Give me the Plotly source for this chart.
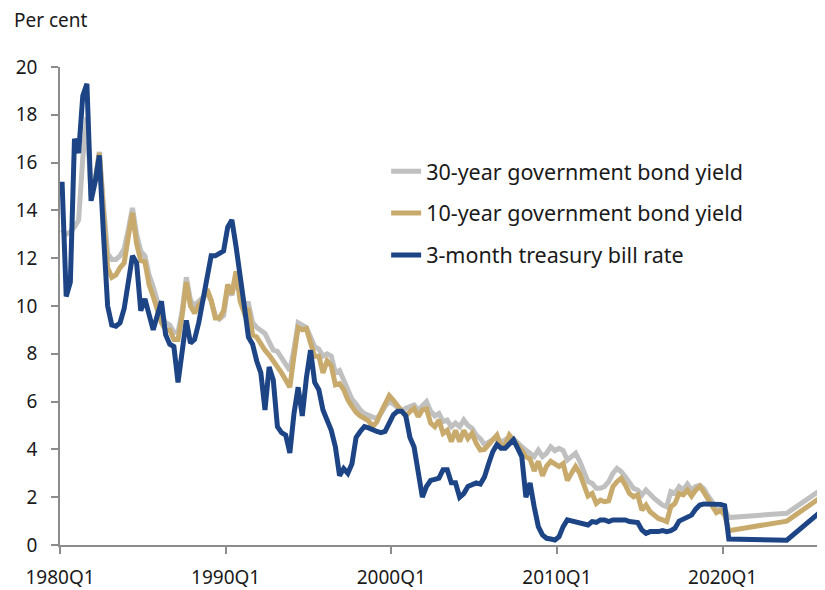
import plotly.graph_objects as go

# Quarterly categories 1980Q1 .. 2025Q4
years = list(range(1980, 2026))
quarters = [f"{y}Q{q}" for y in years for q in (1, 2, 3, 4)]
tick_labels = ["1980Q1", "1990Q1", "2000Q1", "2010Q1", "2020Q1"]

N = None
# 30-year government bond yield (per cent)
bond30 = [
    13.2, 13.0, 13.1, 13.3, 13.6, 16.2, 17.9, 14.6,
    15.3, 16.45, 14.2, 12.2, 11.95, 11.95, 12.1, 12.4,
    13.2, 14.1, 13.0, 12.3, 12.1, 11.3, 10.8, 10.2,
    9.6, 9.3, 9.2, 8.9, 8.9, 9.8, 11.2, 10.25,
    10.0, 10.2, 10.35, 10.6, 10.2, 9.6, 9.45, 9.6,
    10.75, 10.45, 11.2, 10.7, 10.1, 10.1, 9.3, 9.1,
    9.0, 8.85, 8.5, 8.15, 8.1, 7.8, 7.6, 7.3,
    8.2, 9.3, 9.2, 9.1, 8.7, 8.3, 8.2, 7.9,
    8.0, 7.9, 7.2, 7.3, 6.9, 6.5, 6.1, 5.9,
    5.65, 5.5, 5.4, 5.35, 5.3, 5.5, 5.8, 6.0,
    5.9, 5.75, 5.6, 5.72, 5.8, 5.86, 5.65, 5.86,
    6.0, 5.6, 5.4, 5.5, 5.16, 5.23, 4.95, 5.1,
    4.95, 5.23, 5.0, 4.88, 4.6, 4.45, 4.2, 4.3,
    4.39, 4.53, 4.3, 4.4, 4.5, 4.45, 4.25, 4.11,
    3.97, 3.84, 3.7, 3.97, 3.7, 3.84, 4.11, 3.95,
    4.04, 3.95, 3.56, 3.7, 3.84, 3.5, 3.1, 2.65,
    2.58, 2.37, 2.37, 2.45, 2.65, 3.0, 3.2, 3.07,
    2.86, 2.65, 2.37, 2.3, 2.09, 2.3, 2.09, 1.95,
    1.81, 1.67, 1.6, 2.23, 2.16, 2.44, 2.3, 2.55,
    2.3, 2.45, 2.5, 2.35, 2.05, 1.8, 1.55, 1.65,
    1.5, 1.15, N, N, N, N, N, N,
    N, N, N, N, N, N, N, 1.33,
    N, N, N, N, N, N, N, 2.28,
]

# 10-year government bond yield (per cent)
bond10 = [
    N, N, N, N, N, N, N, N,
    15.2, 16.4, 13.9, 11.6, 11.2, 11.3, 11.6, 11.8,
    12.9, 13.9, 12.6, 11.9, 11.85, 10.9, 10.4, 9.9,
    9.3, 9.0, 9.0, 8.6, 8.6, 9.6, 11.0, 10.0,
    9.7, 10.05, 10.25, 10.7, 10.25, 9.5, 9.5, 9.8,
    10.9, 10.5, 11.45, 10.2, 9.7, 9.9, 8.8, 8.7,
    8.4, 8.15, 7.95, 7.7, 7.5, 7.2, 6.9, 6.6,
    7.9, 9.1, 9.0, 9.05, 8.45, 7.9, 7.9, 7.2,
    7.7, 7.5, 6.7, 6.75, 6.5, 6.07, 5.8, 5.55,
    5.4, 5.3, 5.2, 4.95, 5.15, 5.55, 5.9, 6.25,
    6.05, 5.85, 5.65, 5.4, 5.58, 5.72, 5.37, 5.65,
    5.7, 5.1, 4.95, 5.23, 4.67, 4.8, 4.32, 4.8,
    4.32, 4.8, 4.46, 4.67, 4.25, 3.97, 4.0, 4.2,
    4.35, 4.6, 4.1, 4.2, 4.6, 4.4, 4.2, 3.95,
    3.7, 3.6, 3.1, 3.5, 2.9, 3.3, 3.5, 3.4,
    3.28, 3.4, 2.7, 3.0, 3.28, 3.0, 2.5, 2.05,
    2.16, 1.74, 1.88, 1.81, 1.85, 2.44, 2.65, 2.79,
    2.51, 2.16, 2.02, 2.1, 1.46, 1.67, 1.39, 1.25,
    1.11, 1.05, 0.98, 1.6, 1.74, 2.16, 2.1, 2.3,
    2.05, 2.3, 2.45, 2.2, 1.9, 1.6, 1.35, 1.45,
    1.25, 0.6, N, N, N, N, N, N,
    N, N, N, N, N, N, N, 1.0,
    N, N, N, N, N, N, N, 1.97,
]

# 3-month treasury bill rate (per cent)
tbill3m = [
    15.2, 10.4, 11.0, 17.0, 16.4, 18.8, 19.3, 14.4,
    15.2, 16.3, 13.0, 10.0, 9.2, 9.15, 9.3, 9.9,
    11.0, 12.1, 11.8, 9.8, 10.3, 9.6, 9.0, 9.6,
    10.2, 8.8, 8.4, 8.3, 6.8, 8.1, 9.4, 8.45,
    8.6, 9.3, 10.3, 11.1, 12.1, 12.1, 12.2, 12.3,
    13.3, 13.6, 12.5, 11.4, 10.0, 8.7, 8.4, 7.7,
    7.2, 5.65, 7.45, 6.9, 4.95, 4.7, 4.6, 3.85,
    5.5, 6.6, 5.4, 7.0, 8.15, 6.8, 6.5, 5.65,
    5.2, 4.8, 4.1, 2.9, 3.2, 3.0, 3.4, 4.5,
    4.75, 4.95, 4.9, 4.8, 4.75, 4.7, 4.75, 5.1,
    5.45, 5.6, 5.6, 5.4, 4.5, 4.1, 2.9, 2.0,
    2.45, 2.7, 2.75, 2.8, 3.15, 3.15, 2.6, 2.6,
    2.0, 2.15, 2.45, 2.5, 2.6, 2.55, 2.85, 3.4,
    3.9, 4.2, 4.05, 4.05, 4.25, 4.4, 4.05, 3.7,
    2.0, 2.6, 1.6, 0.77, 0.42, 0.28, 0.25, 0.21,
    0.35, 0.77, 1.05, 1.0, 0.98, 0.9, 0.88, 0.84,
    0.98, 0.95, 1.05, 1.05, 0.98, 1.05, 1.05, 1.07,
    1.05, 0.98, 0.94, 0.94, 0.63, 0.49, 0.56, 0.55,
    0.56, 0.6, 0.56, 0.6, 0.7, 1.0, 1.1, 1.15,
    1.25, 1.5, 1.67, 1.72, 1.72, 1.72, 1.72, 1.7,
    1.65, 0.25, N, N, N, N, N, N,
    N, N, N, N, N, N, N, 0.2,
    N, N, N, N, N, N, N, 1.37,
]

series_names = ["30-year government bond yield",
                "10-year government bond yield",
                "3-month treasury bill rate"]
colors = ["#C0C0C0", "#C8AB6C", "#1D4586"]

x_idx = list(range(len(quarters)))
FONT = "Noto Sans, Open Sans, sans-serif"
AXIS = "#8C8C8C"

fig = go.Figure()
for name, vals, col in zip(series_names, [bond30, bond10, tbill3m], colors):
    fig.add_trace(go.Scatter(
        x=x_idx, y=vals, mode="lines", name=name, legendgroup=name,
        connectgaps=True, customdata=quarters,
        line=dict(color=col, width=5),
        hovertemplate="%{customdata}: %{y}<extra>" + name + "</extra>",
    ))

# The page body adds an 8px margin, so the figure is sized to fit the window.
fig.update_layout(
    width=817, height=582, autosize=False,
    margin=dict(l=52, r=3, t=59, b=45),
    paper_bgcolor="white", plot_bgcolor="white",
    font=dict(family=FONT, size=19, color="#1A1A1A"),
    showlegend=True,
    legend=dict(x=0.428, y=0.825, xanchor="left", yanchor="top",
                font=dict(size=21.5), tracegroupgap=11,
                bgcolor="rgba(0,0,0,0)", itemwidth=30),
    annotations=[dict(text="Per cent", xref="paper", yref="paper",
                      x=-0.0635, y=1.098, xanchor="left", yanchor="middle",
                      showarrow=False, font=dict(size=19))],
)
fig.update_xaxes(
    range=[-0.5, len(quarters) - 0.5],
    tickmode="array",
    tickvals=[quarters.index(t) - 0.5 for t in tick_labels],
    ticktext=tick_labels,
    ticks="outside", ticklen=7, tickwidth=1.5, tickcolor=AXIS,
    showline=True, linecolor=AXIS, linewidth=1.5,
    showgrid=False, zeroline=False, ticklabelstandoff=7,
    automargin=False,
)
fig.update_yaxes(
    range=[0, 20], tick0=0, dtick=2,
    ticks="outside", ticklen=7, tickwidth=1.5, tickcolor=AXIS,
    showline=True, linecolor=AXIS, linewidth=1.5,
    showgrid=False, zeroline=False, ticklabelstandoff=10,
    automargin=False,
)

fig.write_html("out.html")
